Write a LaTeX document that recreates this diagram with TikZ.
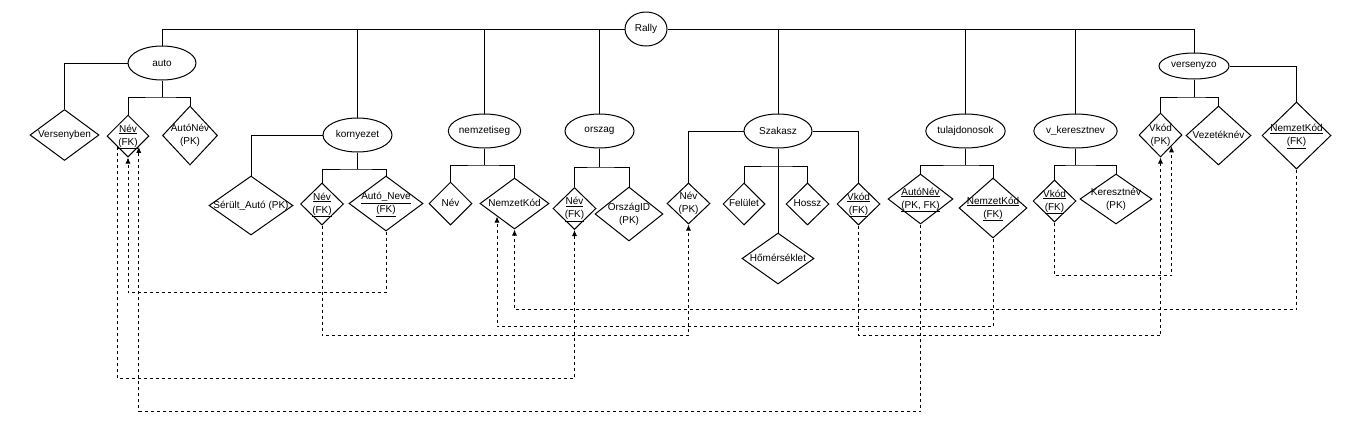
\documentclass[tikz,border=0pt]{standalone}
\usepackage{fontspec}
\setmainfont{Liberation Sans}
\usetikzlibrary{shapes.geometric,arrows.meta}
\newcommand{\attrtext}[1]{\makebox[0pt]{\begin{tabular}{@{}c@{}}#1\end{tabular}}}

\begin{document}
\begin{tikzpicture}[x=1pt,y=-1pt,line width=1pt,>={Latex[length=6pt,width=5pt]},
    entity/.style={draw,ellipse,inner sep=0pt,minimum width=69pt,minimum height=34pt},
    attr/.style={draw,diamond,inner sep=0pt},
    fk/.style={dashed,line width=0.9pt,->},
    font=\fontsize{10}{13}\selectfont]
    \useasboundingbox (0,0) rectangle (1361,429);

    \node[entity,minimum width=42pt] (rally) at (646,29) {Rally};
    \node[entity,minimum width=68pt] (auto) at (162,63) {auto};
    \node[entity] (korny) at (357.5,135) {kornyezet};
    \node[entity] (nemz) at (484.5,131) {nemzetiseg};
    \node[entity] (orsz) at (599.5,131) {orszag};
    \node[entity,minimum width=68pt] (szak) at (778,131) {Szakasz};
    \node[entity,minimum width=71pt] (tulaj) at (965.5,131) {tulajdonosok};
    \node[entity] (vker) at (1075.5,131) {v\_keresztnev};
    \node[entity,minimum width=70pt,minimum height=26pt] (versz) at (1194,66) {versenyzo};

    \node[attr,minimum width=69pt,minimum height=51pt] (aVers) at (64.5,135) {\attrtext{Versenyben}};
    \node[attr,minimum width=42pt,minimum height=42pt] (aNev) at (128,136) {\attrtext{\underline{Név}\\\underline{(FK)}}};
    \node[attr,minimum width=55pt,minimum height=59pt] (aAuto) at (190,135.5) {\attrtext{AutóNév\\(PK)}};
    \node[attr,minimum width=84pt,minimum height=59pt] (kSerult) at (251,205.5) {\attrtext{Sérült\_Autó (PK)}};
    \node[attr,minimum width=43pt,minimum height=42pt] (kNev) at (322,204) {\attrtext{\underline{Név}\\\underline{(FK)}}};
    \node[attr,minimum width=74pt,minimum height=55pt] (kAuto) at (386,203.5) {\attrtext{\underline{Autó\_Neve}\\\underline{(FK)}}};
    \node[attr,minimum width=43pt,minimum height=43pt] (nNev) at (450.5,203.5) {\attrtext{Név}};
    \node[attr,minimum width=69pt,minimum height=51pt] (nKod) at (514.5,203.5) {\attrtext{NemzetKód}};
    \node[attr,minimum width=43pt,minimum height=42pt] (oNev) at (574.5,208.5) {\attrtext{\underline{Név}\\\underline{(FK)}}};
    \node[attr,minimum width=68pt,minimum height=54pt] (oID) at (629,214) {\attrtext{OrszágID\\(PK)}};
    \node[attr,minimum width=43pt,minimum height=41pt] (szNev) at (688.5,203.5) {\attrtext{Név\\(PK)}};
    \node[attr,minimum width=42pt,minimum height=42pt] (szFel) at (744,204) {\attrtext{Felület}};
    \node[attr,minimum width=43pt,minimum height=42pt] (szHossz) at (807.5,204) {\attrtext{Hossz}};
    \node[attr,minimum width=43pt,minimum height=42pt] (szVkod) at (858.5,204) {\attrtext{\underline{Vkód}\\\underline{(FK)}}};
    \node[attr,minimum width=72pt,minimum height=51pt] (szHom) at (778,258.5) {\attrtext{Hőmérséklet}};
    \node[attr,minimum width=65pt,minimum height=50pt] (tAuto) at (920.5,199) {\attrtext{\underline{AutóNév}\\\underline{(PK, FK)}}};
    \node[attr,minimum width=68pt,minimum height=60pt] (tKod) at (993,208) {\attrtext{\underline{NemzetKód}\\\underline{(FK)}}};
    \node[attr,minimum width=43pt,minimum height=42pt] (vkVkod) at (1054.5,201) {\attrtext{\underline{Vkód}\\\underline{(FK)}}};
    \node[attr,minimum width=72pt,minimum height=50pt] (vkNev) at (1116,199) {\attrtext{Keresztnév\\(PK)}};
    \node[attr,minimum width=43pt,minimum height=44pt] (vVkod) at (1160.5,135) {\attrtext{Vkód\\(PK)}};
    \node[attr,minimum width=65pt,minimum height=59pt] (vVez) at (1218.5,135.5) {\attrtext{Vezetéknév}};
    \node[attr,minimum width=69pt,minimum height=67pt] (vKod) at (1296.5,135.5) {\attrtext{\underline{NemzetKód}\\\underline{(FK)}}};

    \coordinate (autoJ) at (162,97);
    \coordinate (kornyJ) at (357.5,169);
    \coordinate (nemzJ) at (484.5,165);
    \coordinate (orszJ) at (599.5,167);
    \coordinate (szakJ) at (778,166);
    \coordinate (tulajJ) at (965.5,165);
    \coordinate (vkerJ) at (1075.5,165);
    \coordinate (verszJ) at (1194,97);

    \draw (auto.north) |- (rally.west);
    \draw (korny.north) |- (rally.west);
    \draw (nemz.north) |- (rally.west);
    \draw (orsz.north) |- (rally.west);
    \draw (szak.north) |- (rally.east);
    \draw (tulaj.north) |- (rally.east);
    \draw (vker.north) |- (rally.east);
    \draw (versz.north) |- (rally.east);

    \draw (auto.west) -| (aVers.north);
    \draw (auto.south) -- (autoJ);
    \draw (aNev.north) |- (autoJ) -| (aAuto.north);
    \draw (korny.west) -| (kSerult.north);
    \draw (korny.south) -- (kornyJ);
    \draw (kNev.north) |- (kornyJ) -| (kAuto.north);
    \draw (nemz.south) -- (nemzJ);
    \draw (nNev.north) |- (nemzJ) -| (nKod.north);
    \draw (orsz.south) -- (orszJ);
    \draw (oNev.north) |- (orszJ) -| (oID.north);
    \draw (szak.west) -| (szNev.north);
    \draw (szak.east) -| (szVkod.north);
    \draw (szak.south) -- (szHom.north);
    \draw (szFel.north) |- (szakJ) -| (szHossz.north);
    \draw (tulaj.south) -- (tulajJ);
    \draw (tAuto.north) |- (tulajJ) -| (tKod.north);
    \draw (vker.south) -- (vkerJ);
    \draw (vkVkod.north) |- (vkerJ) -| (vkNev.north);
    \draw (versz.east) -| (vKod.north);
    \draw (versz.south) -- (verszJ);
    \draw (vVkod.north) |- (verszJ) -| (vVez.north);

    \draw[fk] (kAuto.south) -- ++(0,61) -| (aNev.south);
    \draw[fk] (tAuto.south) -- ++(0,187) -| (aNev.south east);
    \draw[fk] (aNev.south west) -- ++(0,231.5) -| (oNev.south);
    \draw[fk] (kNev.south) -- ++(0,110) -| (szNev.south);
    \draw[fk] (tKod.south) -- ++(0,88) -| (nKod.south west);
    \draw[fk] (vKod.south) -- ++(0,140) -| (nKod.south);
    \draw[fk] (szVkod.south) -- ++(0,110) -| (vVkod.south);
    \draw[fk] (vkVkod.south) -- ++(0,53) -| (vVkod.south east);
\end{tikzpicture}
\end{document}
